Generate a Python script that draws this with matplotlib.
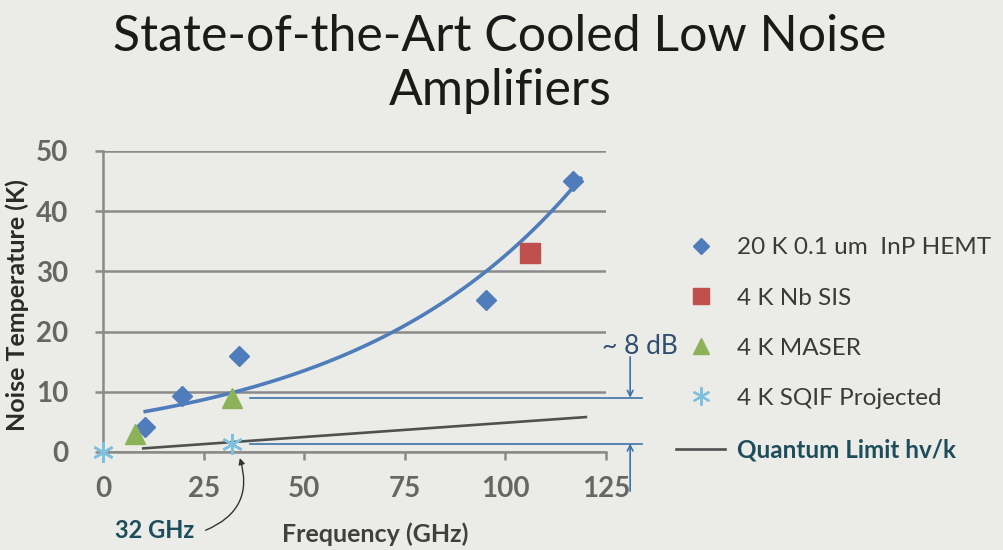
import numpy as np
import matplotlib.pyplot as plt
from matplotlib.lines import Line2D

plt.rcParams['font.family'] = ['Lato', 'DejaVu Sans']

# measured noise temperatures (K) vs frequency (GHz)
hemt_freq = [10.5, 19.6, 33.7, 95.2, 116.7]
hemt_temp = [4.2, 9.3, 16.0, 25.2, 45.0]

sis_freq = [106.0]
sis_temp = [33.0]

maser_freq = [8.0, 32.0]
maser_temp = [3.0, 9.0]

sqif_freq = [0.0, 32.0]
sqif_temp = [0.0, 1.4]

# quantum limit hv/k
quantum_freq = [10.0, 120.0]
quantum_temp = [0.6, 5.8]

x_ticks = [0, 25, 50, 75, 100, 125]
y_ticks = [0, 10, 20, 30, 40, 50]

bg = '#ebebe7'
c_hemt = '#4f7cba'
c_sis = '#c0504d'
c_maser = '#8db35a'
c_sqif = '#7ec0de'
c_quant = '#505050'
c_note = '#3d72a8'
c_teal = '#1d4d5c'
asterisk = (6, 2, 0)

fig = plt.figure(figsize=(10.04, 5.5), dpi=100, facecolor=bg)
ax = fig.add_axes([0.1026, 0.1782, 0.501, 0.5473], facecolor=bg)

ax.set_xlim(0, 125)
ax.set_ylim(0, 50)
ax.set_xticks(x_ticks)
ax.set_yticks(y_ticks)
ax.yaxis.grid(True, color='#8a8a8a', lw=1.8)
ax.set_axisbelow(True)
for s in ['top', 'right']:
    ax.spines[s].set_visible(False)
for s in ['left', 'bottom']:
    ax.spines[s].set_color('#8a8a8a')
    ax.spines[s].set_linewidth(1.8)
ax.tick_params(axis='both', direction='out', length=6, width=1.8, color='#8a8a8a',
               labelsize=20, labelcolor='#666666')
ax.tick_params(axis='y', pad=19)
ax.tick_params(axis='x', pad=11)
for lab in ax.get_xticklabels() + ax.get_yticklabels():
    lab.set_fontweight('bold')

# exponential trendline through the HEMT points
b, ln_a = np.polyfit(hemt_freq, np.log(hemt_temp), 1)
fit_x = np.linspace(min(hemt_freq), max(hemt_freq) + 2, 100)
ax.plot(fit_x, np.exp(ln_a) * np.exp(b * fit_x), color=c_hemt, lw=2.6, zorder=3)

ax.plot(quantum_freq, quantum_temp, color=c_quant, lw=1.9, zorder=3)

ax.plot(hemt_freq, hemt_temp, 'D', color=c_hemt, ms=10, zorder=4, clip_on=False)
ax.plot(sis_freq, sis_temp, 's', color=c_sis, ms=15, zorder=4, clip_on=False)
ax.plot(maser_freq, maser_temp, '^', color=c_maser, ms=15, zorder=4, clip_on=False)
ax.plot(sqif_freq, sqif_temp, marker=asterisk, ls='none', color=c_sqif, ms=15, mew=1.8,
        zorder=5, clip_on=False)

# reference levels from the 32 GHz MASER and SQIF points
ax.plot([36.5, 134], [maser_temp[1]] * 2, color=c_note, lw=1.2, clip_on=False)
ax.plot([36.5, 134], [sqif_temp[1]] * 2, color=c_note, lw=1.2, clip_on=False)
ax.annotate('', xy=(131, maser_temp[1]), xytext=(131, 15.8), annotation_clip=False,
            arrowprops=dict(arrowstyle='->', color=c_note, lw=1.2, shrinkA=0, shrinkB=0))
ax.annotate('', xy=(131, sqif_temp[1]), xytext=(131, -6.5), annotation_clip=False,
            arrowprops=dict(arrowstyle='->', color=c_note, lw=1.2, shrinkA=0, shrinkB=0))
ax.text(133.5, 17.6, '~ 8 dB', ha='center', va='center', fontsize=19, color='#2f4f6f',
        clip_on=False)

ax.text(12.9, -13.0, '32 GHz', ha='center', va='center', fontsize=17, fontweight='bold',
        color=c_teal, clip_on=False)
ax.annotate('', xy=(34, -1.0), xytext=(25.5, -13.0), annotation_clip=False,
            arrowprops=dict(arrowstyle='-|>', color='#333333', lw=1.0, mutation_scale=9,
                            connectionstyle='arc3,rad=0.45', shrinkA=0, shrinkB=0))

ax.set_xlabel('Frequency (GHz)', fontsize=18, fontweight='bold', color='#404040')
ax.xaxis.set_label_coords(0.541, -0.235)
ax.set_ylabel('Noise Temperature (K)', fontsize=18, fontweight='bold', color='#2a2a2a')
ax.yaxis.set_label_coords(-0.148, 0.488)

fig.text(0.498, 0.883, 'State-of-the-Art Cooled Low Noise\nAmplifiers', ha='center',
         va='center', fontsize=36, color='#1a1a1a', linespacing=1.22)

handles = [
    Line2D([], [], ls='none', marker='D', color=c_hemt, ms=8),
    Line2D([], [], ls='none', marker='s', color=c_sis, ms=12),
    Line2D([], [], ls='none', marker='^', color=c_maser, ms=12),
    Line2D([], [], ls='none', marker=asterisk, color=c_sqif, ms=13, mew=1.6),
    Line2D([], [], color=c_quant, lw=1.9),
]
labels = ['20 K 0.1 um  InP HEMT', '4 K Nb SIS', '4 K MASER', '4 K SQIF Projected',
          'Quantum Limit hv/k']
leg = fig.legend(handles, labels, loc='upper left', bbox_to_anchor=(0.664, 0.586),
                 frameon=False, fontsize=17.5, labelspacing=1.2, handlelength=2.0,
                 handletextpad=0.5, borderaxespad=0)
for t in leg.get_texts():
    t.set_color('#3a3a3a')
leg.get_texts()[-1].set_color(c_teal)
leg.get_texts()[-1].set_fontweight('bold')

fig.savefig('out.png', dpi=100, facecolor=bg)
